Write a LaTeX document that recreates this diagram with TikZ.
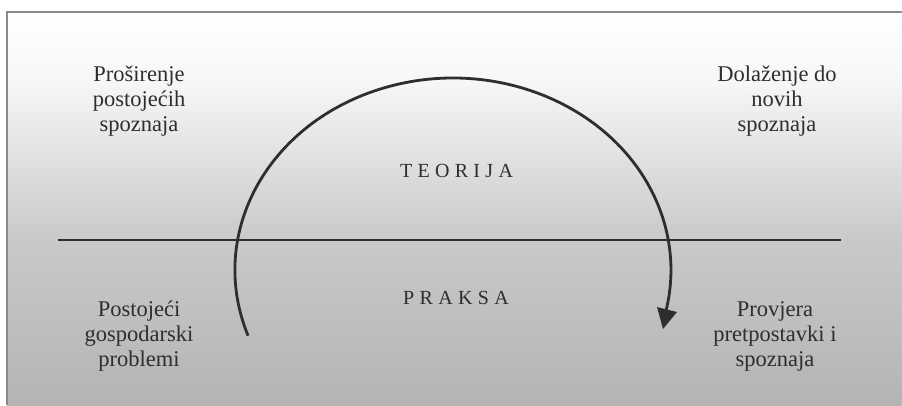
\documentclass[tikz,border=0pt]{standalone}
\usepackage{fontspec}
\setmainfont{Liberation Serif}
\definecolor{ink}{HTML}{2E2E2E}
\definecolor{frame}{HTML}{8A8A8A}
\definecolor{bgA}{HTML}{F7F7F7}
\definecolor{bgB}{HTML}{C9C9C9}
\definecolor{bgC}{HTML}{B4B4B4}
\begin{document}
\begin{tikzpicture}[x=1pt,y=-1pt,
  lbl/.style={font=\fontsize{22.5}{24.7}\selectfont, align=center, text=ink, inner sep=0pt, anchor=base},
  capword/.style={font=\fontsize{20}{22}\selectfont, text=ink, inner sep=0pt, anchor=base},
  axis/.style={draw=ink, line width=1.2pt},
  cycleline/.style={draw=ink, line width=2.8pt},
  tipfill/.style={fill=ink}]
\useasboundingbox (0,0) rectangle (902,405);
\fill[white] (0,0) rectangle (902,405);
% background gradient bands
\shade[top color=white, bottom color=bgA] (7,12) rectangle (902,80.5);
\shade[top color=bgA, bottom color=bgB] (7,80) rectangle (902,240.5);
\shade[top color=bgB, bottom color=bgC] (7,240) rectangle (902,405);
% frame
\draw[frame, line width=1.2pt] (7,405) -- (7,12) -- (902,12);
% axis line
\coordinate (axL) at (57.5,240);
\coordinate (axR) at (841,240);
\draw[axis] (axL) -- (axR);
% cycle arc
\coordinate (arcStart) at (248.1,335.7);
\draw[cycleline] (arcStart) arc[start angle=160, end angle=372, x radius=218, y radius=192] coordinate (arcEnd);
\coordinate (tipA) at (657,307);
\coordinate (tipB) at (677,312);
\coordinate (tipC) at (663,329);
\fill[tipfill] (tipA) -- (tipB) -- (tipC) -- cycle;
% labels
\node[capword] (teorija) at (456.5,177) {T\kern5.3pt E\kern5.3pt O\kern5.3pt R\kern5.3pt I\kern5.3pt J\kern5.3pt A};
\node[capword] (praksa) at (456,304) {P\kern5.4pt R\kern5.4pt A\kern5.4pt K\kern5.4pt S\kern5.4pt A};
\node[lbl] (tl) at (139,131) {Proširenje\\postojećih\\spoznaja};
\node[lbl] (tr) at (777,131) {Dolaženje do\\novih\\spoznaja};
\node[lbl] (bl) at (139,366) {Postojeći\\gospodarski\\problemi};
\node[lbl] (br) at (775,366) {Provjera\\pretpostavki i\\spoznaja};
\end{tikzpicture}
\end{document}
